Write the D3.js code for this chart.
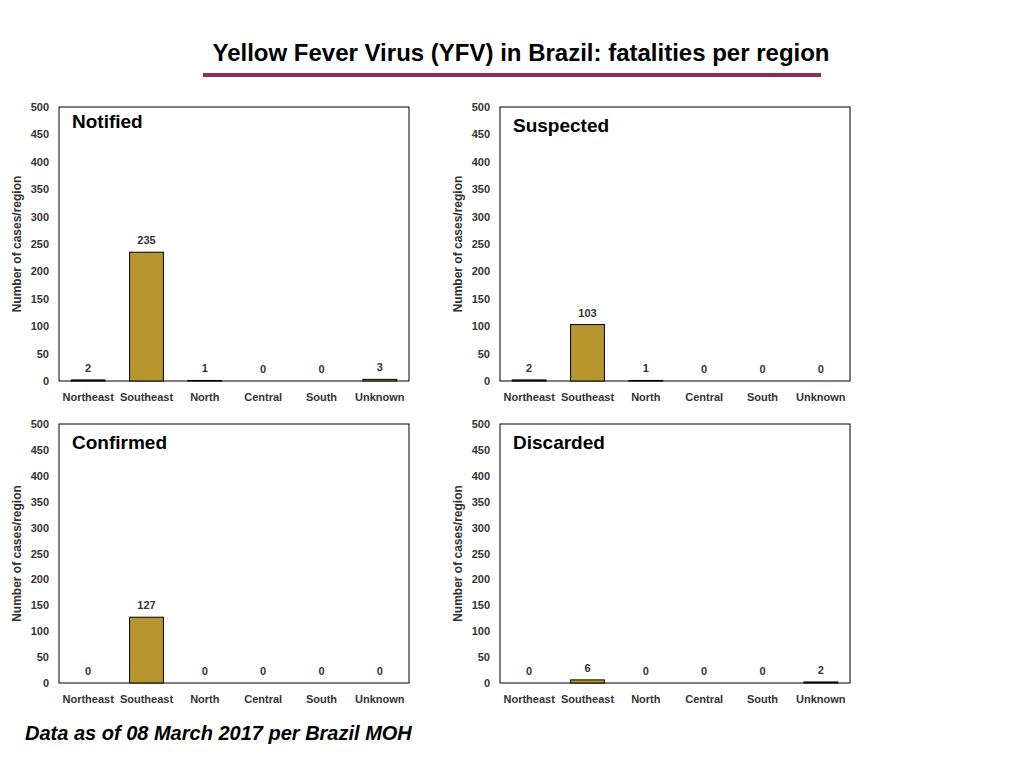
<!DOCTYPE html>
<html><head><meta charset="utf-8">
<script src="https://cdn.jsdelivr.net/npm/d3@7"></script>
<style>body{margin:0;background:#fff;font-family:"Liberation Sans",Arial,sans-serif}</style>
</head><body>
<script>
var regions = ["Northeast", "Southeast", "North", "Central", "South", "Unknown"];
var panelNames = ["Notified", "Suspected", "Confirmed", "Discarded"];
var notified = [2, 235, 1, 0, 0, 3];
var suspected = [2, 103, 1, 0, 0, 0];
var confirmed = [0, 127, 0, 0, 0, 0];
var discarded = [0, 6, 0, 0, 0, 2];
var yTicks = [0, 50, 100, 150, 200, 250, 300, 350, 400, 450, 500];

var series = [notified, suspected, confirmed, discarded];
var boxes = [
  {x: 59, y: 107, w: 350, h: 274, ty: 121},
  {x: 500, y: 107, w: 350, h: 274, ty: 125},
  {x: 59, y: 424, w: 350, h: 259, ty: 442},
  {x: 500, y: 424, w: 350, h: 259, ty: 442}
];

var svg = d3.select("body").append("svg").attr("width", 1024).attr("height", 768);

svg.append("text").attr("x", 521).attr("y", 61).attr("text-anchor", "middle")
  .attr("font-size", 24).attr("font-weight", "bold")
  .text("Yellow Fever Virus (YFV) in Brazil: fatalities per region");
svg.append("line").attr("x1", 203).attr("x2", 821).attr("y1", 75).attr("y2", 75)
  .attr("stroke", "#8c2a58").attr("stroke-width", 4);

series.forEach(function(vals, i) {
  var b = boxes[i];
  var g = svg.append("g");
  var x = d3.scaleBand().domain(regions).range([b.x, b.x + b.w]).paddingInner(0.42).paddingOuter(0.21);
  var y = d3.scaleLinear().domain([0, 500]).range([b.y + b.h, b.y]);

  g.append("rect").attr("x", b.x).attr("y", b.y).attr("width", b.w).attr("height", b.h)
    .attr("fill", "none").attr("stroke", "#000").attr("stroke-width", 1);

  var ya = g.append("g").attr("transform", "translate(" + b.x + ",0)")
    .call(d3.axisLeft(y).tickValues(yTicks).tickSize(0).tickPadding(10));
  ya.select(".domain").remove();
  ya.selectAll("text").attr("font-size", 11).attr("font-weight", "bold").attr("fill", "#333")
    .attr("font-family", "Liberation Sans, Arial, sans-serif");

  var xa = g.append("g").attr("transform", "translate(0," + (b.y + b.h) + ")")
    .call(d3.axisBottom(x).tickSize(0).tickPadding(12));
  xa.select(".domain").remove();
  xa.selectAll("text").attr("font-size", 11).attr("font-weight", "bold").attr("fill", "#333")
    .attr("font-family", "Liberation Sans, Arial, sans-serif");

  g.selectAll(".bar").data(vals).enter().append("rect")
    .attr("x", function(d, j) { return x(regions[j]); })
    .attr("y", function(d) { return y(d); })
    .attr("width", x.bandwidth())
    .attr("height", function(d) { return y(0) - y(d); })
    .attr("fill", "#b8962f").attr("stroke", "#000").attr("stroke-width", 1);

  g.selectAll(".lbl").data(vals).enter().append("text")
    .attr("x", function(d, j) { return x(regions[j]) + x.bandwidth() / 2; })
    .attr("y", function(d) { return y(d) - 8; })
    .attr("text-anchor", "middle").attr("font-size", 11).attr("font-weight", "bold").attr("fill", "#333")
    .text(function(d) { return d; });

  g.append("text").attr("x", b.x + 13).attr("y", b.ty + 7)
    .attr("font-size", 19).attr("font-weight", "bold").text(panelNames[i]);

  g.append("text").attr("transform", "translate(" + (b.x - 38) + "," + (b.y + b.h / 2) + ") rotate(-90)")
    .attr("text-anchor", "middle").attr("font-size", 12).attr("font-weight", "bold").attr("fill", "#333")
    .text("Number of cases/region");
});

svg.append("text").attr("x", 25).attr("y", 740).attr("font-size", 20)
  .attr("font-weight", "bold").attr("font-style", "italic")
  .text("Data as of 08 March 2017 per Brazil MOH");
</script>
</body></html>
